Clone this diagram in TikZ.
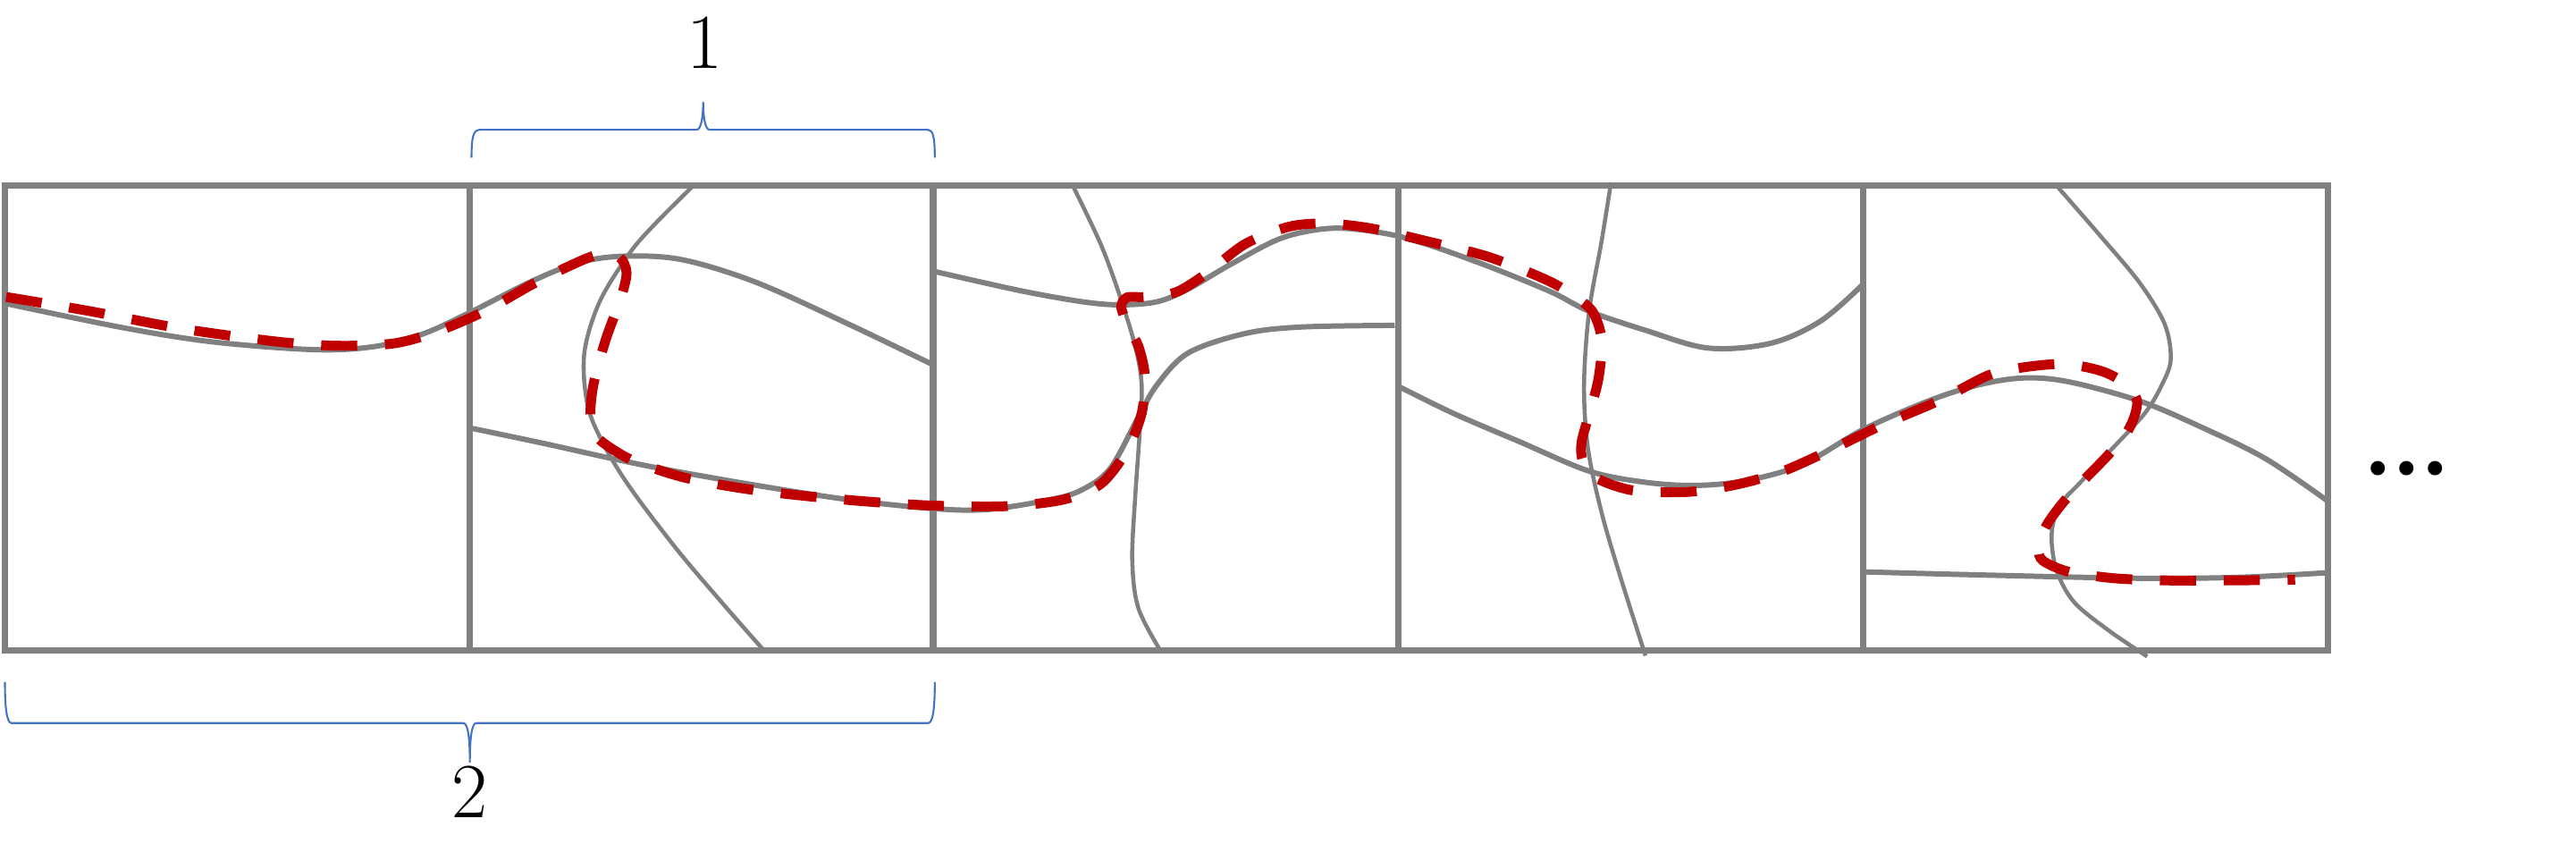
\documentclass[tikz,border=0pt]{standalone}
\usepackage{fontspec}
\newfontfamily\dejavu{DejaVu Sans}
\definecolor{gridgray}{RGB}{128,128,128}
\definecolor{dashred}{RGB}{192,0,0}
\definecolor{braceblue}{RGB}{68,114,196}
\begin{document}
\begin{tikzpicture}[x=0.02cm,y=-0.02cm,
  border/.style={draw=gridgray,line width=2.2pt},
  thickcurve/.style={draw=gridgray,line width=1.85pt},
  thincurve/.style={draw=gridgray,line width=1.4pt},
  route/.style={draw=dashred,line width=3.4pt,dash pattern=on 12.5pt off 9.6pt},
  bracepath/.style={draw=braceblue,line width=0.65pt},
  lbl/.style={font=\fontsize{27}{27}\selectfont,inner sep=0pt}]
\useasboundingbox (0,0) rectangle (1568,513.6);
% gray curves
\draw[thickcurve] plot[smooth,tension=0.55] coordinates {(3,184.6) (73.7,199.2) (129,208) (191.7,212.8) (228.5,210.8) (258,203) (287.5,189.4) (324,171) (354,159.3) (383,155.8) (416.5,158.3) (460.7,172) (516,197) (568,222)};
\draw[thickcurve] plot[smooth,tension=0.55] coordinates {(286,260.4) (331.7,270) (372.3,279) (405.4,285.7) (460.7,295.4) (516,304) (568,309.5) (601.5,310) (639.6,304) (658.7,298) (675.8,285) (693,253.6) (704.4,234) (723.4,214.7) (757.7,203) (792,199) (849,198)};
\draw[thincurve] plot[smooth,tension=0.55] coordinates {(422,113) (398,137) (383,154.4) (365,183.6) (355.7,214.7) (357.5,245.8) (366.7,269) (383.3,296.4) (412.8,335.3) (442.3,370) (466,397)};
\draw[thickcurve] plot[smooth,tension=0.55] coordinates {(568,165) (620.6,176.8) (658.7,183.6) (681.5,185.5) (704.4,183.6) (723.4,175.8) (750.1,160.3) (780.6,144.7) (811,138.9) (841.6,141.8) (868.2,148.6) (906.3,162.2) (944.4,177.8) (967.3,189.4) (1001.6,201) (1039.7,211.8) (1077.8,208.9) (1108.3,195.3) (1134,173)};
\draw[thincurve] plot[smooth,tension=0.55] coordinates {(653,113) (670,148.6) (681.5,179.7) (691,210.8) (694.9,234.2) (693.7,263.3) (691,302.2) (689.2,341) (693,370.3) (707,397)};
\draw[thincurve] plot[smooth,tension=0.55] coordinates {(980.6,111) (974.9,146.6) (967.3,189.4) (964.2,234.2) (966.6,273) (974.9,312) (986.3,351) (1001.6,399)};
\draw[thickcurve] plot[smooth,tension=0.55] coordinates {(851,235) (885,251.7) (925.4,269) (967.3,286.7) (1001.6,293.5) (1032,295.4) (1062.5,292.5) (1096.8,282.8) (1134,261.4) (1173.8,244) (1204.4,234.2) (1232,230) (1259.5,232.4) (1302.3,244) (1339,259.5) (1378.8,279) (1417,305)};
\draw[thincurve] plot[smooth,tension=0.55] coordinates {(1251.8,113) (1277.8,142.8) (1302.3,172) (1317.6,197.2) (1321.3,218.6) (1316,234) (1305.5,251.5) (1284,274.8) (1265.6,294.3) (1253.3,308) (1248.8,325.6) (1251.8,347) (1262.5,366.4) (1284,384) (1307,399.5)};
\draw[thickcurve] plot[smooth,tension=0.55] coordinates {(1134,348) (1210.5,350) (1302.3,351.9) (1363.5,351.3) (1417,348.5)};
% grid
\draw[border] (3,113) rectangle (1417,396);
\foreach \x in {286,568,851,1134} \draw[border] (\x,113) -- (\x,396);
% red route
\draw[route] plot[smooth,tension=0.5] coordinates {(3.7,180.7) (55,189.4) (110.6,200) (169.6,208) (206,210.4) (239.6,209) (265.4,202) (294.9,189.4) (324.3,172.9) (350,160.3) (364.9,154.8) (377,156.5) (381.4,166) (377.8,181.7) (368.6,207) (361.2,234.2) (359.4,253.6) (363,265.3) (372.3,273) (387,281) (416.5,290.6) (453.3,297.4) (493.9,302.2) (534.4,305.7) (569.4,307.7) (613,308) (647.3,304) (670,294.5) (685.4,275) (694.9,251.7) (696.8,228.3) (693,210.8) (687.3,200.1) (682.5,187) (686,181) (696.8,180.7) (715.9,177.8) (735,166) (757.7,148.6) (784.4,138) (807.3,136) (834,138.9) (868.2,146.7) (906.3,156.4) (940.6,170) (955.9,178.7) (969.2,189.4) (975,207) (973,230.3) (968,249.7) (962.7,269) (963.5,280.8) (971,290.6) (993.9,298.4) (1028.2,299.3) (1058.7,294.5) (1085.4,286.7) (1115.9,273) (1146,258.4) (1180,243.9) (1210.5,228.3) (1232,223.5) (1256.4,221.5) (1277.8,225.4) (1291.6,232.2) (1300.8,244) (1296.2,260.4) (1284,276) (1270,290.5) (1256.4,305) (1245.7,319.7) (1241,333.4) (1243.5,341.2) (1259.5,348) (1287,351.9) (1317.6,353.2) (1357.4,353.2) (1397,352.8)};
% braces
\draw[bracepath] (287,96) .. controls (287,84) and (288,79) .. (292,79) -- (424,79) .. controls (427,79) and (428,70) .. (428,62) .. controls (428,70) and (429,79) .. (432,79) -- (565,79) .. controls (568,79) and (569,84) .. (569,96);
\draw[bracepath] (3,415) .. controls (3,430) and (4,440) .. (7,440) -- (282,440) .. controls (285,440) and (286,450) .. (286,464) .. controls (286,450) and (287,440) .. (290,440) -- (565,440) .. controls (568,440) and (569,430) .. (569,415);
% labels
\node[lbl] (one) at (429,26) {1};
\node[lbl] (two) at (286,482) {2};
\node[font=\dejavu\fontsize{17}{17}\selectfont,inner sep=0pt,anchor=base] (dots) at (1465,296.5) {•\kern0pt•\kern0pt•};
\end{tikzpicture}
\end{document}
